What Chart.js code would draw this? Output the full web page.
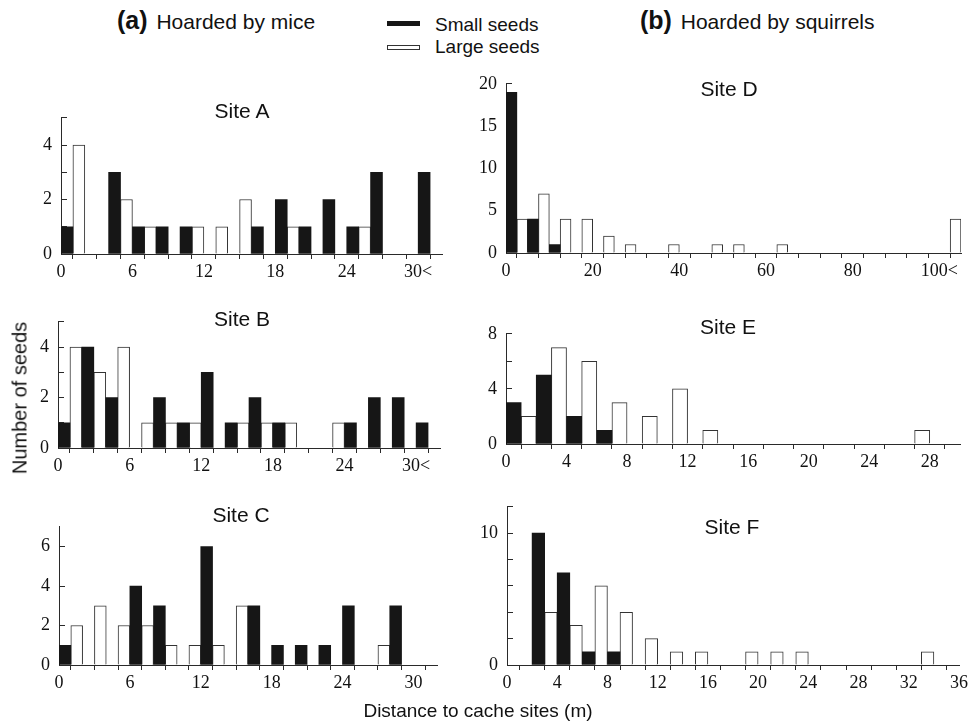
<!DOCTYPE html>
<html>
<head>
<meta charset="utf-8">
<script src="https://cdn.jsdelivr.net/npm/chart.js@4.4.1/dist/chart.umd.min.js"></script>
<style>
  body { margin: 0; width: 979px; height: 723px; position: relative; overflow: hidden; background: #fff;
         font-family: 'Liberation Sans', Arial, sans-serif; color: #111; }
  canvas { position: absolute; }
  .txt { position: absolute; white-space: nowrap; transform: translateY(-50%); line-height: 1; }
  .mid { position: absolute; white-space: nowrap; transform: translate(-50%, -50%); line-height: 1; }
  .hdr { font-size: 21px; }
  .hdr b { font-size: 25px; margin-right: 3px; }
  .site { font-size: 21px; }
  .leg { font-size: 19px; }
  .box { position: absolute; width: 33px; height: 5px; box-sizing: border-box; }
  .ylab { position: absolute; font-size: 20px; white-space: nowrap; }
</style>
</head>
<body>

<script>
// Hoarded by mice: 2 m bins, last bin is 30<
const binsMice = [0, 2, 4, 6, 8, 10, 12, 14, 16, 18, 20, 22, 24, 26, 28, 30];
const smallA = [1, 0, 3, 1, 1, 1, 0, 0, 1, 2, 1, 2, 1, 3, 0, 3];
const largeA = [4, 0, 2, 1, 0, 1, 1, 2, 0, 1, 0, 0, 1, 0, 0, 0];
const smallB = [1, 4, 2, 0, 2, 1, 3, 1, 2, 1, 0, 0, 1, 2, 2, 1];
const largeB = [4, 3, 4, 1, 1, 1, 0, 1, 1, 1, 0, 1, 0, 0, 0, 0];
const smallC = [1, 0, 0, 4, 3, 0, 6, 0, 3, 1, 1, 1, 3, 0, 3, 0];
const largeC = [2, 3, 2, 2, 1, 1, 1, 3, 0, 0, 0, 0, 0, 1, 0, 0];

// Site D: 5 m bins, last bin is 100<
const binsD = [0, 5, 10, 15, 20, 25, 30, 35, 40, 45, 50, 55, 60, 65, 70, 75, 80, 85, 90, 95, 100];
const smallD = [19, 4, 1, 0, 0, 0, 0, 0, 0, 0, 0, 0, 0, 0, 0, 0, 0, 0, 0, 0, 0];
const largeD = [4, 7, 4, 4, 2, 1, 0, 1, 0, 1, 1, 0, 1, 0, 0, 0, 0, 0, 0, 0, 4];

// Sites E, F: 2 m bins
const binsE = [0, 2, 4, 6, 8, 10, 12, 14, 16, 18, 20, 22, 24, 26, 28];
const smallE = [3, 5, 2, 1, 0, 0, 0, 0, 0, 0, 0, 0, 0, 0, 0];
const largeE = [2, 7, 6, 3, 2, 4, 1, 0, 0, 0, 0, 0, 0, 1, 0];
const binsF = [0, 2, 4, 6, 8, 10, 12, 14, 16, 18, 20, 22, 24, 26, 28, 30, 32, 34];
const smallF = [0, 10, 7, 1, 1, 0, 0, 0, 0, 0, 0, 0, 0, 0, 0, 0, 0, 0];
const largeF = [0, 4, 3, 6, 4, 2, 1, 1, 0, 1, 1, 1, 0, 0, 0, 0, 1, 0];

// Tick labels
const xTicksMice = [0, 6, 12, 18, 24, 30];
const xLabelsAB = ['0', '6', '12', '18', '24', '30<'];
const xLabelsC = ['0', '6', '12', '18', '24', '30'];
const xTicksD = [0, 20, 40, 60, 80, 100];
const xLabelsD = ['0', '20', '40', '60', '80', '100<'];
const xTicksE = [0, 4, 8, 12, 16, 20, 24, 28];
const xTicksF = [0, 4, 8, 12, 16, 20, 24, 28, 32, 36];
const yTicksAB = [0, 2, 4];
const yTicksC = [0, 2, 4, 6];
const yTicksD = [0, 5, 10, 15, 20];
const yTicksE = [0, 4, 8];
const yTicksF = [0, 10];

const tickFont = { family: "'Liberation Serif', 'DejaVu Serif', serif", size: 18 };
const axisColor = '#2a2a2a';

// box = [axis left, axis top, axis right, baseline] in page px
const panels = [
  { title: 'Site A', tx: 242, ty: 110, bins: binsMice, bw: 2, small: smallA, large: largeA, xMax: 32, xStep: 2,
    xTicks: xTicksMice, xLabels: xLabelsAB, yMax: 5, yStep: 1, yTicks: yTicksAB, box: [61, 104, 442, 254] },
  { title: 'Site B', tx: 242, ty: 318, bins: binsMice, bw: 2, small: smallB, large: largeB, xMax: 32, xStep: 2,
    xTicks: xTicksMice, xLabels: xLabelsAB, yMax: 5, yStep: 1, yTicks: yTicksAB, box: [58, 308, 440, 448] },
  { title: 'Site C', tx: 241, ty: 514, bins: binsMice, bw: 2, small: smallC, large: largeC, xMax: 32, xStep: 2,
    xTicks: xTicksMice, xLabels: xLabelsC, yMax: 7, yStep: 1, yTicks: yTicksC, box: [59, 513, 437, 665] },
  { title: 'Site D', tx: 729, ty: 88, bins: binsD, bw: 5, small: smallD, large: largeD, xMax: 105, xStep: 5,
    xTicks: xTicksD, xLabels: xLabelsD, yMax: 20, yStep: 5, yTicks: yTicksD, box: [506, 70, 961, 253] },
  { title: 'Site E', tx: 728, ty: 326, bins: binsE, bw: 2, small: smallE, large: largeE, xMax: 30, xStep: 2,
    xTicks: xTicksE, xLabels: xTicksE.map(String), yMax: 8, yStep: 2, yTicks: yTicksE, box: [506, 320, 960, 444] },
  { title: 'Site F', tx: 732, ty: 526, bins: binsF, bw: 2, small: smallF, large: largeF, xMax: 36, xStep: 2,
    xTicks: xTicksF, xLabels: xTicksF.map(String), yMax: 12, yStep: 2, yTicks: yTicksF, box: [507, 493, 959, 665] }
];

function addText(cls, html, x, y) {
  const d = document.createElement('div');
  d.className = cls;
  d.innerHTML = html;
  d.style.left = x + 'px';
  d.style.top = y + 'px';
  document.body.appendChild(d);
  return d;
}

function makePanel(p) {
  const padL = 50, padT = 12, padR = 15, padB = 35;
  const cv = document.createElement('canvas');
  cv.width = p.box[2] - p.box[0] + padL + padR;
  cv.height = p.box[3] - p.box[1] + padT + padB;
  cv.style.left = (p.box[0] - padL) + 'px';
  cv.style.top = (p.box[1] - padT) + 'px';
  document.body.appendChild(cv);

  // one group per bin, centred in the bin; empty counts become null so nothing is drawn
  const points = vals => p.bins.map((b, i) => ({ x: b + p.bw / 2, y: vals[i] || null }));
  const pick = (ticks, labels) => v => { const i = ticks.indexOf(v); return i < 0 ? '' : labels[i]; };

  new Chart(cv, {
    type: 'bar',
    data: {
      datasets: [
        { label: 'Small seeds', data: points(p.small), backgroundColor: '#161616', borderWidth: 0 },
        { label: 'Large seeds', data: points(p.large), backgroundColor: '#ffffff', borderColor: '#333', borderWidth: 1 }
      ]
    },
    options: {
      responsive: false,
      animation: false,
      events: [],
      layout: { padding: { top: padT, right: padR, left: 0, bottom: 0 } },
      datasets: { bar: { barPercentage: 1, categoryPercentage: 1 } },
      plugins: { legend: { display: false }, tooltip: { enabled: false } },
      scales: {
        x: {
          type: 'linear', min: 0, max: p.xMax, offset: false,
          ticks: { stepSize: p.xStep, autoSkip: false, maxRotation: 0, padding: 2, color: '#111', font: tickFont,
                   callback: pick(p.xTicks, p.xLabels) },
          grid: { drawOnChartArea: false, tickLength: 5, color: axisColor },
          border: { color: axisColor, width: 1 },
          afterFit: s => { s.height = padB; }
        },
        y: {
          min: 0, max: p.yMax,
          ticks: { stepSize: p.yStep, padding: 15, color: '#111', font: tickFont,
                   callback: pick(p.yTicks, p.yTicks.map(String)) },
          grid: { drawOnChartArea: false, tickLength: -6, color: axisColor },
          border: { color: axisColor, width: 1 },
          afterFit: s => { s.width = padL; }
        }
      }
    }
  });

  addText('mid site', p.title, p.tx, p.ty);
}

panels.forEach(makePanel);

// headers and legend
addText('txt hdr', '<b>(a)</b> Hoarded by mice', 117, 20);
addText('txt hdr', '<b>(b)</b> Hoarded by squirrels', 640, 20);
const b1 = addText('box', '', 387, 21); b1.style.background = '#161616';
const b2 = addText('box', '', 387, 45); b2.style.border = '1px solid #333';
addText('txt leg', 'Small seeds', 435, 24);
addText('txt leg', 'Large seeds', 435, 46);

// axis titles
addText('ylab', 'Number of seeds', 20, 398).style.transform = 'translate(-50%, -50%) rotate(-90deg)';
addText('mid leg', 'Distance to cache sites (m)', 478, 710);
</script>
</body>
</html>
